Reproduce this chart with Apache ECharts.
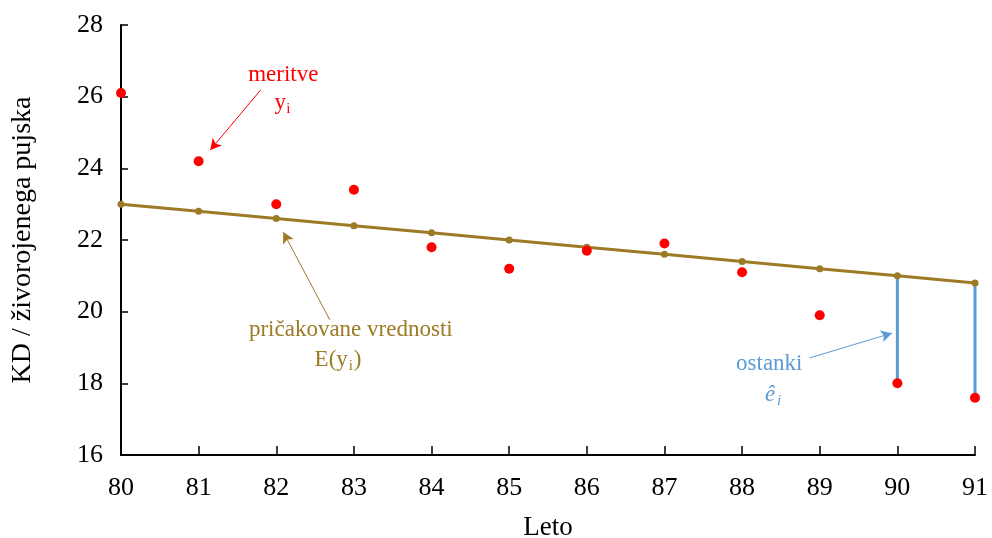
<!DOCTYPE html>
<html>
<head>
<meta charset="utf-8">
<script src="https://cdn.jsdelivr.net/npm/echarts@6/dist/echarts.min.js"></script>
<style>
  html, body { margin: 0; padding: 0; background: #fff; }
  #main { width: 992px; height: 538px; }
</style>
</head>
<body>
<div id="main"></div>
<script>
// podatki
var years = [80, 81, 82, 83, 84, 85, 86, 87, 88, 89, 90, 91];
var measured = [26.1, 24.2, 23.0, 23.4, 21.8, 21.2, 21.7, 21.9, 21.1, 19.9, 18.0, 17.6];
var expected = [23.0, 22.8, 22.6, 22.4, 22.2, 22.0, 21.8, 21.6, 21.4, 21.2, 21.0, 20.8];
var residualYears = [90, 91]; // prikazani ostanki

var RED = '#ff0000';
var OLIVE = '#9c7a26';
var BLUE = '#5b9bd5';
var FONT = '"Liberation Serif", "DejaVu Serif", serif';

var chart = echarts.init(document.getElementById('main'));

var residualSeries = residualYears.map(function (yr) {
  var i = years.indexOf(yr);
  return {
    type: 'line',
    data: [[yr, expected[i]], [yr, measured[i]]],
    symbol: 'none',
    lineStyle: { color: BLUE, width: 3 },
    z: 1,
    silent: true
  };
});

// puscice (v koordinatah podatkov)
function arrow(from, to, color, width) {
  return {
    type: 'line',
    data: [],
    silent: true,
    markLine: {
      silent: true,
      symbol: ['none', 'arrow'],
      symbolSize: [9, 11],
      label: { show: false },
      lineStyle: { color: color, width: width, type: 'solid' },
      data: [[{ coord: from }, { coord: to }]]
    }
  };
}

var option = {
  animation: false,
  backgroundColor: '#fff',
  grid: { left: 121, right: 17, top: 25, bottom: 83, outerBoundsMode: 'none', containLabel: false },
  xAxis: {
    type: 'value',
    min: 80, max: 91, interval: 1,
    name: 'Leto',
    nameLocation: 'middle',
    nameGap: 59,
    nameTextStyle: { fontFamily: FONT, fontSize: 27, color: '#000' },
    axisLine: { lineStyle: { color: '#000', width: 2 } },
    axisTick: { inside: true, length: 9, lineStyle: { color: '#000', width: 1.5 } },
    axisLabel: { fontFamily: FONT, fontSize: 26, color: '#000', margin: 20 },
    splitLine: { show: false }
  },
  yAxis: {
    type: 'value',
    min: 16, max: 28, interval: 2,
    name: 'KD / živorojenega pujska',
    nameLocation: 'middle',
    nameGap: 84,
    nameTextStyle: { fontFamily: FONT, fontSize: 28, color: '#000' },
    axisLine: { show: true, lineStyle: { color: '#000', width: 2 } },
    axisTick: { show: true, inside: true, length: 7, lineStyle: { color: '#000', width: 1.5 } },
    axisLabel: { fontFamily: FONT, fontSize: 26, color: '#000', margin: 18 },
    splitLine: { show: false }
  },
  series: residualSeries.concat([
    {
      type: 'line',
      data: years.map(function (x, i) { return [x, expected[i]]; }),
      symbol: 'circle',
      symbolSize: 7,
      lineStyle: { color: OLIVE, width: 3 },
      itemStyle: { color: OLIVE },
      z: 2
    },
    {
      type: 'scatter',
      data: years.map(function (x, i) { return [x, measured[i]]; }),
      symbol: 'circle',
      symbolSize: 10,
      itemStyle: { color: RED, opacity: 1 },
      z: 3
    },
    arrow([81.80, 26.19], [81.15, 24.51], RED, 1),
    arrow([82.69, 19.77], [82.09, 22.22], OLIVE, 1),
    arrow([88.87, 18.71], [89.93, 19.40], BLUE, 1)
  ])
};

chart.setOption(option);

// besedilne oznake
function px(x, y) { return chart.convertToPixel({ gridIndex: 0 }, [x, y]); }
function txt(p, s, color, size, extra) {
  var st = { text: s, fill: color, font: size + 'px ' + FONT, align: 'center', verticalAlign: 'middle' };
  if (extra) for (var k in extra) st[k] = extra[k];
  return { type: 'text', x: p[0], y: p[1], style: st, z: 100 };
}

var pMer = px(82.09, 26.6);
var pY = px(82.09, 25.82);
var pPric = px(82.96, 19.49);
var pE = px(82.96, 18.65);
var pOst = px(88.35, 18.54);
var pEi = px(88.40, 17.67);

chart.setOption({
  graphic: [
    txt(pMer, 'meritve', RED, 23),
    txt([pY[0] - 3, pY[1]], 'y', RED, 23),
    txt([pY[0] + 5, pY[1] + 6], 'i', RED, 15),
    txt(pPric, 'pričakovane vrednosti', OLIVE, 23),
    txt([pE[0] - 3, pE[1]], 'E(y', OLIVE, 23, { align: 'right' }),
    txt([pE[0], pE[1] + 6], 'i', OLIVE, 15),
    txt([pE[0] + 3, pE[1]], ')', OLIVE, 23, { align: 'left' }),
    txt(pOst, 'ostanki', BLUE, 23),
    txt([pEi[0] - 3, pEi[1]], 'ê', BLUE, 23, { font: 'italic 23px ' + FONT }),
    txt([pEi[0] + 6, pEi[1] + 6], 'i', BLUE, 15, { font: 'italic 15px ' + FONT })
  ]
});
</script>
</body>
</html>
